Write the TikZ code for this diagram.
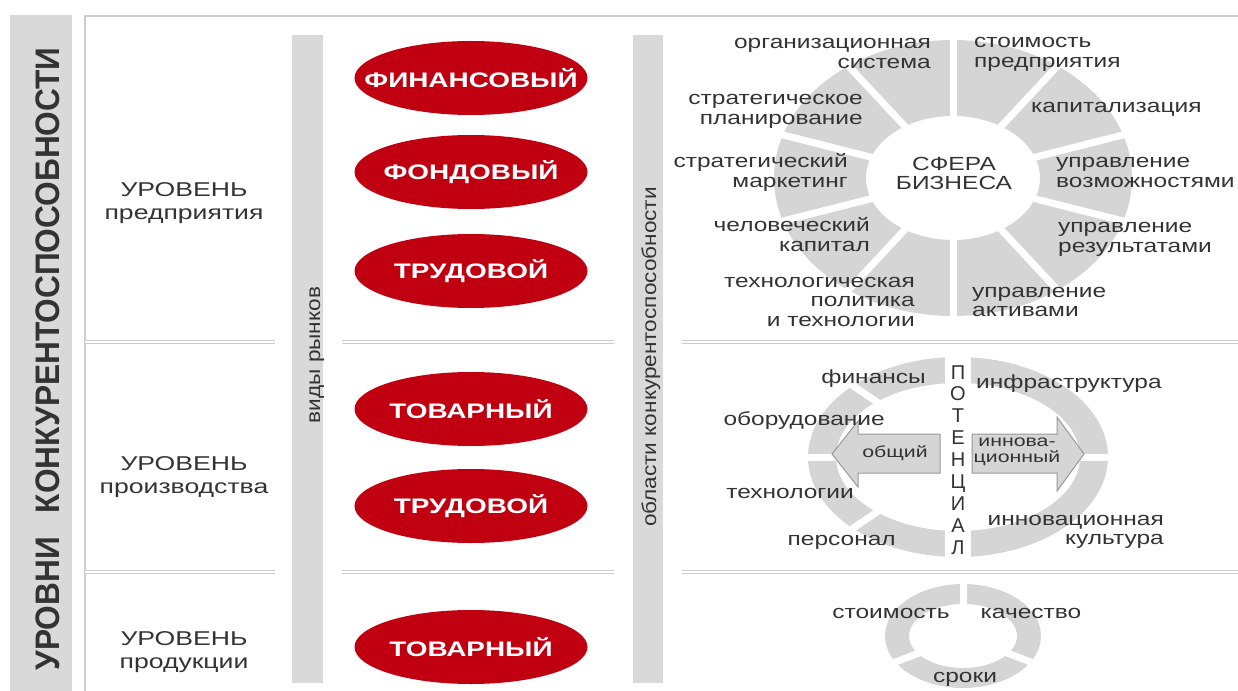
\documentclass[tikz,border=0pt]{standalone}
\usepackage{fontspec}
\setmainfont{Liberation Sans}
\newfontfamily\widefont[FakeStretch=1.33]{Liberation Sans}
\newfontfamily\lblfont[FakeStretch=1.29]{Liberation Sans}
\newfontfamily\barfont[FakeStretch=1.13]{Liberation Sans}
\newfontfamily\titlefont[FakeStretch=0.93]{Liberation Sans}
\usetikzlibrary{shapes.geometric}

\definecolor{barcol}{HTML}{D9D9D9}
\definecolor{segcol}{HTML}{D5D5D5}
\definecolor{marketred}{HTML}{C00010}
\definecolor{txtcol}{HTML}{333333}
\definecolor{linecol}{HTML}{CCCCCC}

\tikzset{
	bar/.style={fill=barcol},
	frame/.style={draw=linecol, line width=1.8bp},
	sep/.style={draw=linecol, line width=1.3bp, double=white, double distance=2bp},
	gap/.style={draw=white, line width=7bp},
	market/.style={ellipse, fill=marketred, minimum width=233bp, minimum height=74bp, inner sep=0pt,
		text=white, font={\widefont\bfseries\fontsize{21bp}{22bp}\selectfont}},
	lvl/.style={align=center, anchor=base, inner sep=0pt, text=txtcol,
		font={\widefont\fontsize{20bp}{23bp}\selectfont}},
	lbl/.style={inner sep=0pt, text=txtcol, font={\lblfont\fontsize{19bp}{19.5bp}\selectfont}},
	lbll/.style={lbl, align=left, anchor=base west},
	lblr/.style={lbl, align=right, anchor=base east},
	vlbl/.style={rotate=90, anchor=base, inner sep=0pt, text=txtcol,
		font={\barfont\fontsize{20bp}{20bp}\selectfont}},
	arrowbox/.style={fill=segcol, draw=gray!80, line width=1bp},
	arrtxt/.style={align=center, inner sep=0pt, text=txtcol,
		font={\widefont\fontsize{16bp}{16bp}\selectfont}}
}

\begin{document}
\begin{tikzpicture}[x=1bp,y=-1bp]
	\useasboundingbox (0,0) rectangle (1238,691);
	
	% frame, bars and separators
	\draw[frame] (85,691) -- (85,16) -- (1238,16);
	\fill[bar] (10,15) rectangle (72,691);
	\fill[bar] (292,35) rectangle (323,683);
	\fill[bar] (633,35) rectangle (663,683);
	\foreach \y in {342,572} {
		\draw[sep] (85,\y) -- (275,\y);
		\draw[sep] (342,\y) -- (614,\y);
		\draw[sep] (682,\y) -- (1238,\y);
	}
	
	\node[rotate=90, anchor=base, inner sep=0pt, text=txtcol,
		font={\titlefont\bfseries\fontsize{34bp}{34bp}\selectfont}] (title) at (59,359)
		{УРОВНИ\hspace{24bp}КОНКУРЕНТОСПОСОБНОСТИ};
	\node[vlbl] (markets) at (320,355) {виды рынков};
	\node[vlbl] (areas) at (656,357) {области конкурентоспособности};
	
	% levels (base = last line)
	\node[lvl] (firm) at (184,220) {УРОВЕНЬ\\предприятия};
	\node[lvl] (prod) at (184,493) {УРОВЕНЬ\\производства};
	\node[lvl] (goods) at (184,668) {УРОВЕНЬ\\продукции};
	
	% kinds of markets
	\node[market] (fin) at (471,78) {\makebox[0pt]{ФИНАНСОВЫЙ}};
	\node[market] (fund) at (471,172) {\makebox[0pt]{ФОНДОВЫЙ}};
	\node[market] (lab) at (471,271) {\makebox[0pt]{ТРУДОВОЙ}};
	\node[market] (com) at (471,409) {\makebox[0pt]{ТОВАРНЫЙ}};
	\node[market] (lab2) at (471,506) {\makebox[0pt]{ТРУДОВОЙ}};
	\node[market] (com2) at (471,647) {\makebox[0pt]{ТОВАРНЫЙ}};
	
	% sphere of business
	\fill[segcol, even odd rule] (953,178) ellipse [x radius=179, y radius=138]
		(953,178) ellipse [x radius=87, y radius=62];
	\foreach \a in {18,54,...,342}
		\draw[gap] (953,178) -- ++(\a:190 and 148);
	\node[lbl, align=center, anchor=base] (sphere) at (954,190) {СФЕРА\\БИЗНЕСА};
	\node[lblr] (org) at (931,68.5) {организационная\\система};
	\node[lbll] (val) at (974,67.5) {стоимость\\предприятия};
	\node[lblr] (plan) at (863,124.5) {стратегическое\\планирование};
	\node[lbll] (cap) at (1031,113) {капитализация};
	\node[lblr] (mark) at (848,187.5) {стратегический\\маркетинг};
	\node[lbll] (opp) at (1056,187.5) {управление\\возможностями};
	\node[lblr] (hum) at (870,251.5) {человеческий\\капитал};
	\node[lbll] (res) at (1058,252.5) {управление\\результатами};
	\node[lblr] (tech) at (915,326) {технологическая\\политика\\и технологии};
	\node[lbll] (ass) at (972,316.5) {управление\\активами};
	
	% potential
	\fill[segcol, even odd rule] (958,457) ellipse [x radius=150, y radius=100]
		(958,457) ellipse [x radius=122, y radius=74];
	\foreach \a in {0,135,180,225}
		\draw[gap] (958,457) -- ++(\a:165 and 112);
	\fill[white] (945,350) rectangle (971,562);
	\filldraw[arrowbox] (832,454) -- (858,421) -- (858,434) -- (940,434)
		-- (940,473) -- (858,473) -- (858,487) -- cycle;
	\filldraw[arrowbox] (972,434) -- (1057,434) -- (1057,417) -- (1084,454)
		-- (1057,491) -- (1057,473) -- (972,473) -- cycle;
	\node[arrtxt] (gen) at (895,453) {общий};
	\node[arrtxt] (inn) at (1017,452) {иннова-\\ционный};
	\foreach \ch [count=\i from 0] in {П,О,Т,Е,Н,Ц,И,А,Л}
		\node[inner sep=0pt, anchor=base, text=txtcol, font={\fontsize{20bp}{20bp}\selectfont}]
			(pot\i) at (958,379+21.9*\i) {\ch};
	\node[lblr] (money) at (926,383) {финансы};
	\node[lbll] (infra) at (976,388) {инфраструктура};
	\node[lblr] (equip) at (885,425) {оборудование};
	\node[lblr] (techn) at (854,498) {технологии};
	\node[lblr] (cult) at (1164,544.5) {инновационная\\культура};
	\node[lblr] (staff) at (896,545) {персонал};
	
	% product
	\fill[segcol, even odd rule] (963,636) ellipse [x radius=78, y radius=52]
		(963,636) ellipse [x radius=54, y radius=32];
	\foreach \a in {30,150,270}
		\draw[gap] (963,636) -- ++(\a:90 and 60);
	\node[lbl, anchor=base] (cost) at (891,618) {стоимость};
	\node[lbl, anchor=base] (qual) at (1031,618) {качество};
	\node[lbl, anchor=base] (term) at (965,682) {сроки};
\end{tikzpicture}
\end{document}
